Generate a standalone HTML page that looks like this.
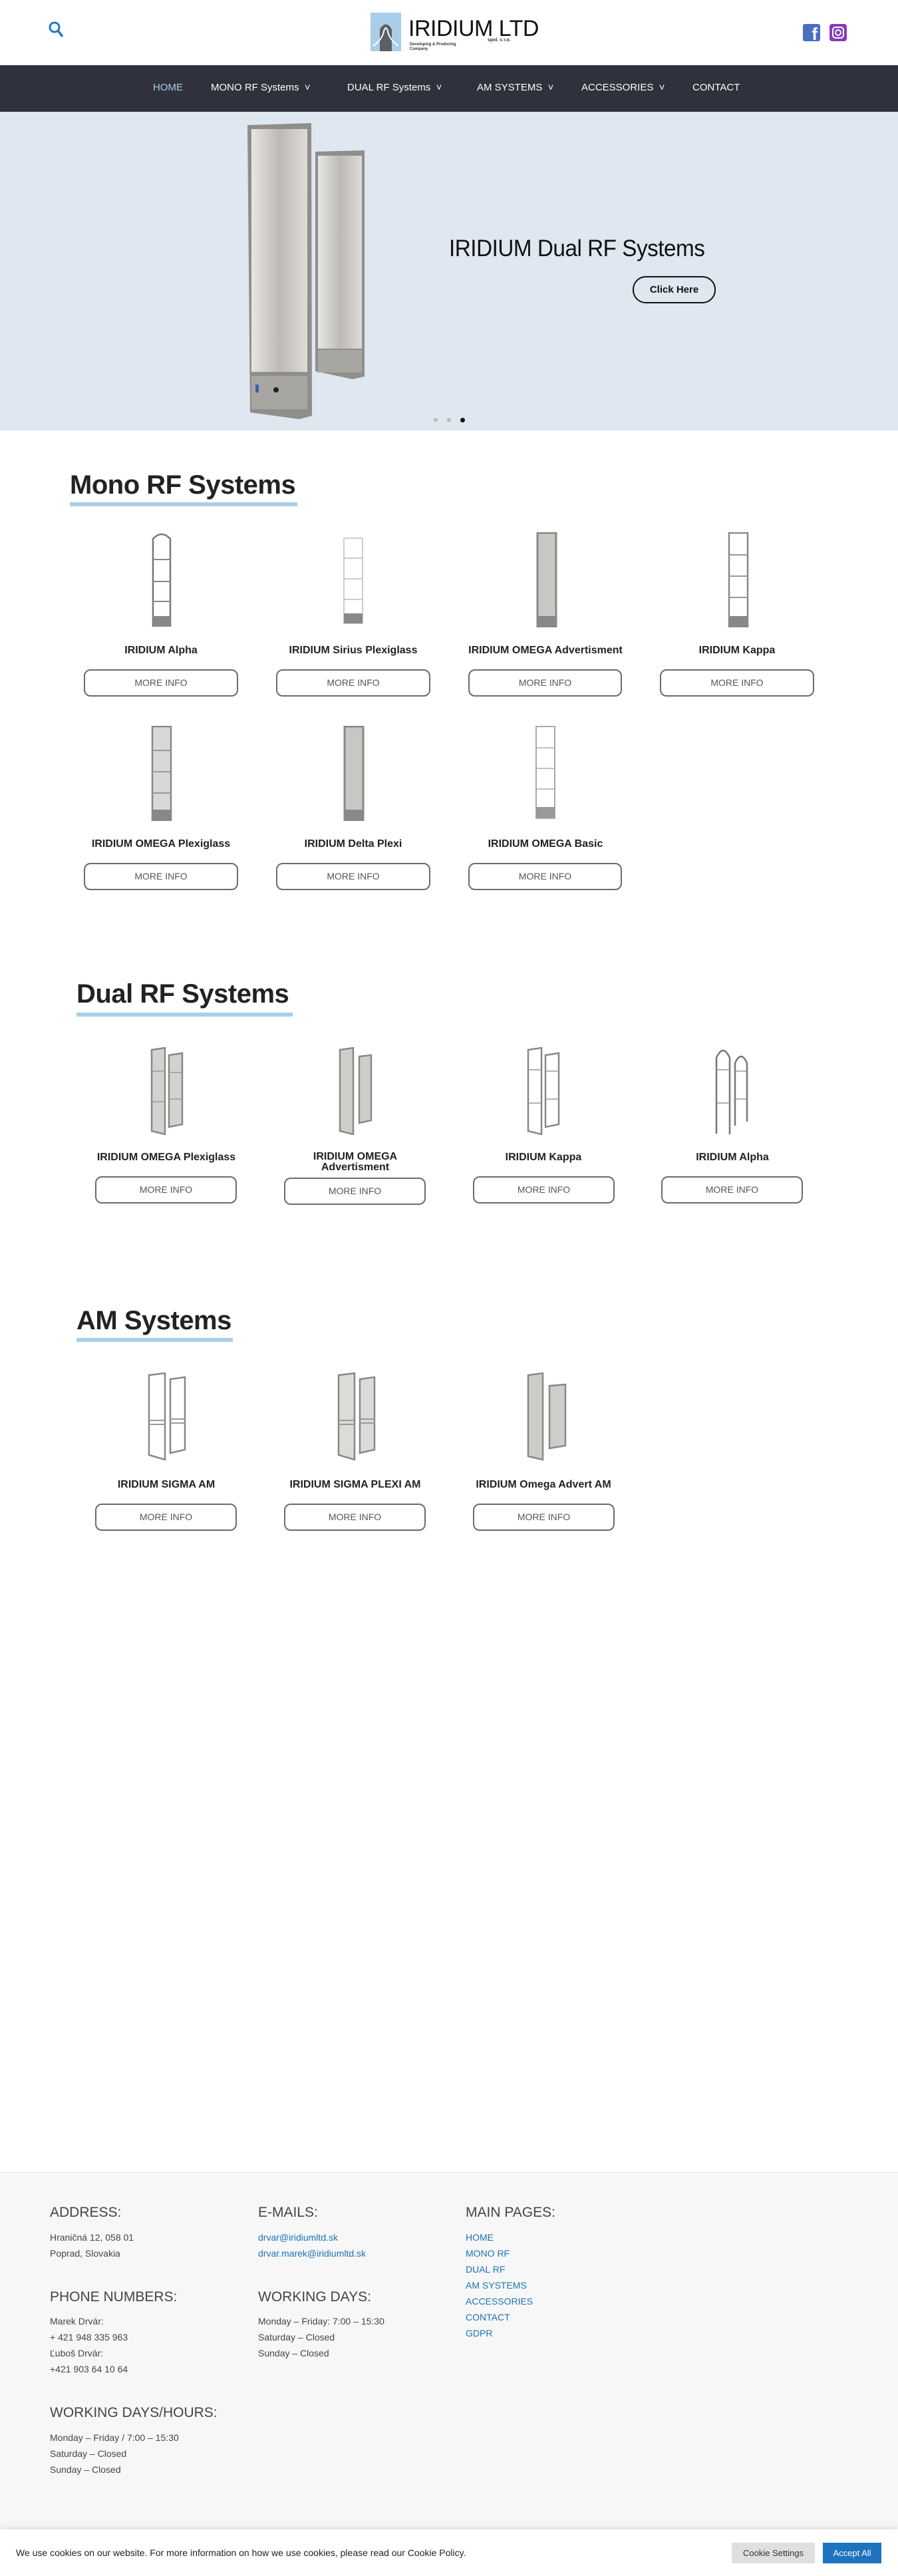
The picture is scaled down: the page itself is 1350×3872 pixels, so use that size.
<!DOCTYPE html>
<html><head><meta charset="utf-8">
<style>
*{margin:0;padding:0;box-sizing:border-box}
body{width:1350px;height:3872px;position:relative;background:#fff;font-family:"Liberation Sans",sans-serif;color:#222;overflow:hidden}
.a{position:absolute}
.nav a{position:absolute;top:123px;color:#fff;font-size:15px;white-space:nowrap}
.h2{position:absolute;font-weight:bold;font-size:40px;color:#222;letter-spacing:-0.5px}
.ul{position:absolute;height:6px;background:#a9cfe8}
.t{position:absolute;text-align:center;font-weight:bold;font-size:16px;color:#222}
.b{position:absolute;border:2px solid #6b6b6b;border-radius:10px;text-align:center;font-size:14px;color:#555;background:#fff}
.f{position:absolute;font-size:14px;color:#444}
.fh{position:absolute;font-size:21px;color:#444}
.lk{color:#1a73b8}
</style></head><body>
<svg class="a" style="left:72px;top:31px" width="26" height="28" viewBox="0 0 26 28"><circle cx="10" cy="10" r="7" fill="none" stroke="#1e78c8" stroke-width="3"/><line x1="15" y1="15" x2="22" y2="24" stroke="#1e78c8" stroke-width="3.5"/></svg>
<div class="a" style="left:557px;top:19px;width:46px;height:58px;background:#a9cdea"></div>
<svg class="a" style="left:557px;top:19px" width="46" height="58"><path d="M14 58 V25 Q23 10 32 25 V58Z" fill="#5a5f66"/><path d="M4 50 Q18 40 20 28 Q23 18 26 28 Q28 40 42 50" fill="none" stroke="#fff" stroke-width="2"/></svg>
<div class="a" style="left:614px;top:24px;font-size:34px;color:#111;letter-spacing:-0.5px">IRIDIUM LTD</div>
<div class="a" style="left:733px;top:57px;font-size:7px;font-weight:bold;color:#333">spol. s r.o.</div>
<div class="a" style="left:616px;top:64px;font-size:6px;font-weight:bold;color:#333;line-height:7px">Developing &amp; Producing<br>Company</div>
<div class="a" style="left:1207px;top:36px;width:26px;height:26px;background:#4a6fbf;border-radius:3px;color:#fff;font-weight:bold;font-size:26px;line-height:30px;text-align:right;padding-right:4px;overflow:hidden">f</div>
<div class="a" style="left:1247px;top:36px;width:26px;height:26px;background:#8a3ab9;border-radius:4px"><div class="a" style="left:4px;top:4px;width:18px;height:18px;border:2px solid #fff;border-radius:5px"></div><div class="a" style="left:8px;top:8px;width:10px;height:10px;border:2px solid #fff;border-radius:50%"></div></div>
<div class="a nav" style="left:0;top:98px;width:1350px;height:70px;background:#2f313d">
<a style="left:230px;top:25px;color:#a9cdea">HOME</a>
<a style="left:317px;top:25px">MONO RF Systems &nbsp;˅</a>
<a style="left:522px;top:25px">DUAL RF Systems &nbsp;˅</a>
<a style="left:717px;top:25px">AM SYSTEMS &nbsp;˅</a>
<a style="left:874px;top:25px">ACCESSORIES &nbsp;˅</a>
<a style="left:1041px;top:25px">CONTACT</a>
</div>
<div class="a" style="left:0;top:168px;width:1350px;height:479px;background:#dfe7f1"></div>
<svg class="a" style="left:360px;top:180px" width="200" height="460">
<defs><linearGradient id="g" x1="0" x2="1"><stop offset="0" stop-color="#e8e6e2"/><stop offset="0.5" stop-color="#bdbab4"/><stop offset="1" stop-color="#dedcd8"/></linearGradient></defs>
<path d="M12 8 L108 5 L109 445 L90 450 L16 440Z" fill="#8f8e8a"/>
<rect x="18" y="14" width="84" height="365" fill="url(#g)"/>
<rect x="18" y="385" width="84" height="50" fill="#a8a6a0"/>
<rect x="24" y="398" width="5" height="12" fill="#3a60b0"/><circle cx="55" cy="406" r="4" fill="#222"/>
<path d="M114 48 L188 46 L188 386 L170 390 L114 378Z" fill="#8f8e8a"/>
<rect x="118" y="54" width="66" height="290" fill="url(#g)"/>
<rect x="118" y="346" width="66" height="34" fill="#a8a6a0"/>
</svg>
<div class="a" style="left:675px;top:354px;font-size:35px;color:#111;letter-spacing:-0.5px;transform:scaleX(0.95);transform-origin:left">IRIDIUM Dual RF Systems</div>
<div class="a" style="left:951px;top:415px;width:125px;height:41px;border:2px solid #111;border-radius:20px;text-align:center;line-height:37px;font-size:15px;font-weight:bold;color:#111">Click Here</div>
<div class="a" style="left:652px;top:628px;width:6px;height:6px;border-radius:50%;background:#bbb"></div>
<div class="a" style="left:672px;top:628px;width:6px;height:6px;border-radius:50%;background:#bbb"></div>
<div class="a" style="left:692px;top:628px;width:7px;height:7px;border-radius:50%;background:#111"></div>

<div class="h2" style="left:105px;top:707px">Mono RF Systems</div>
<div class="ul" style="left:105px;top:755px;width:342px"></div>

<svg class="a" style="left:226px;top:800px" width="34" height="143"><path d="M4 142 V10 Q17 -4 30 10 V142" fill="none" stroke="#777" stroke-width="2.5"/><g stroke="#888" stroke-width="2"><line x1="4" y1="41" x2="30" y2="41"/><line x1="4" y1="74" x2="30" y2="74"/><line x1="4" y1="104" x2="30" y2="104"/></g><rect x="4" y="126" width="26" height="16" fill="#888"/></svg>
<svg class="a" style="left:515px;top:808px" width="32" height="130"><rect x="2" y="1" width="28" height="128" fill="none" stroke="#bbc" stroke-width="1.5"/><g stroke="#bbb" stroke-width="1.5"><line x1="2" y1="31" x2="30" y2="31"/><line x1="2" y1="62" x2="30" y2="62"/><line x1="2" y1="93" x2="30" y2="93"/></g><rect x="2" y="114" width="28" height="15" fill="#888"/></svg>
<svg class="a" style="left:806px;top:800px" width="32" height="143"><rect x="2" y="1" width="28" height="141" fill="#c9c7c2" stroke="#888" stroke-width="3"/><rect x="2" y="126" width="28" height="16" fill="#888"/></svg>
<svg class="a" style="left:1094px;top:800px" width="32" height="143"><rect x="2" y="1" width="28" height="141" fill="none" stroke="#888" stroke-width="2.5"/><g stroke="#999" stroke-width="2"><line x1="2" y1="34" x2="30" y2="34"/><line x1="2" y1="66" x2="30" y2="66"/><line x1="2" y1="98" x2="30" y2="98"/></g><rect x="2" y="126" width="28" height="16" fill="#888"/></svg>
<svg class="a" style="left:227px;top:1091px" width="32" height="143"><rect x="2" y="1" width="28" height="141" fill="#dad8d4" stroke="#888" stroke-width="2.5"/><g stroke="#999" stroke-width="2"><line x1="2" y1="37" x2="30" y2="37"/><line x1="2" y1="69" x2="30" y2="69"/><line x1="2" y1="101" x2="30" y2="101"/></g><rect x="2" y="126" width="28" height="16" fill="#888"/></svg>
<svg class="a" style="left:516px;top:1091px" width="32" height="143"><rect x="2" y="1" width="28" height="141" fill="#c9c7c2" stroke="#888" stroke-width="3"/><rect x="2" y="126" width="28" height="16" fill="#888"/></svg>
<svg class="a" style="left:804px;top:1091px" width="32" height="140"><rect x="2" y="1" width="28" height="138" fill="none" stroke="#aaa" stroke-width="2"/><g stroke="#aaa" stroke-width="1.5"><line x1="2" y1="33" x2="30" y2="33"/><line x1="2" y1="64" x2="30" y2="64"/><line x1="2" y1="95" x2="30" y2="95"/></g><rect x="2" y="122" width="28" height="16" fill="#999"/></svg>

<div class="t" style="left:96px;top:969px;width:292px">IRIDIUM Alpha</div>
<div class="t" style="left:385px;top:969px;width:292px">IRIDIUM Sirius Plexiglass</div>
<div class="t" style="left:674px;top:969px;width:292px">IRIDIUM OMEGA Advertisment</div>
<div class="t" style="left:962px;top:969px;width:292px">IRIDIUM Kappa</div>
<div class="b" style="left:126px;top:1006px;width:232px;height:41px;line-height:37px">MORE INFO</div>
<div class="b" style="left:415px;top:1006px;width:232px;height:41px;line-height:37px">MORE INFO</div>
<div class="b" style="left:704px;top:1006px;width:231px;height:41px;line-height:37px">MORE INFO</div>
<div class="b" style="left:992px;top:1006px;width:232px;height:41px;line-height:37px">MORE INFO</div>
<div class="t" style="left:96px;top:1260px;width:292px">IRIDIUM OMEGA Plexiglass</div>
<div class="t" style="left:385px;top:1260px;width:292px">IRIDIUM Delta Plexi</div>
<div class="t" style="left:674px;top:1260px;width:292px">IRIDIUM OMEGA Basic</div>
<div class="b" style="left:126px;top:1297px;width:232px;height:41px;line-height:37px">MORE INFO</div>
<div class="b" style="left:415px;top:1297px;width:232px;height:41px;line-height:37px">MORE INFO</div>
<div class="b" style="left:704px;top:1297px;width:231px;height:41px;line-height:37px">MORE INFO</div>

<div class="h2" style="left:115px;top:1472px">Dual RF Systems</div>
<div class="ul" style="left:115px;top:1522px;width:325px"></div>
<svg class="a" style="left:222px;top:1574px" width="60" height="132"><g fill="#d4d2ce" stroke="#888" stroke-width="2.5"><path d="M6 4 L26 1 V131 L6 126Z"/><path d="M32 12 L52 9 V116 L32 120Z"/></g><g stroke="#999" stroke-width="1.5"><line x1="6" y1="36" x2="26" y2="36"/><line x1="6" y1="82" x2="26" y2="82"/><line x1="32" y1="38" x2="52" y2="38"/><line x1="32" y1="78" x2="52" y2="78"/></g></svg>
<svg class="a" style="left:505px;top:1574px" width="60" height="132"><g fill="#cfcdc8" stroke="#888" stroke-width="2.5"><path d="M6 4 L26 1 V131 L6 126Z"/><path d="M35 14 L53 12 V110 L35 114Z"/></g></svg>
<svg class="a" style="left:788px;top:1574px" width="60" height="132"><g fill="none" stroke="#888" stroke-width="2.5"><path d="M6 4 L26 1 V131 L6 126Z"/><path d="M32 12 L52 9 V116 L32 120Z"/></g><g stroke="#999" stroke-width="1.5"><line x1="6" y1="34" x2="26" y2="34"/><line x1="6" y1="84" x2="26" y2="84"/><line x1="32" y1="36" x2="52" y2="36"/><line x1="32" y1="78" x2="52" y2="78"/></g></svg>
<svg class="a" style="left:1072px;top:1574px" width="60" height="132"><g fill="none" stroke="#777" stroke-width="2.5"><path d="M5 130 V16 Q15 -6 25 16 V131"/><path d="M33 118 V24 Q42 4 51 24 V112"/></g><g stroke="#999" stroke-width="1.5"><line x1="5" y1="34" x2="25" y2="34"/><line x1="5" y1="84" x2="25" y2="84"/><line x1="33" y1="36" x2="51" y2="36"/><line x1="33" y1="78" x2="51" y2="78"/></g></svg>
<div class="t" style="left:110px;top:1731px;width:280px">IRIDIUM OMEGA Plexiglass</div>
<div class="t" style="left:394px;top:1731px;width:280px;line-height:16px">IRIDIUM OMEGA<br>Advertisment</div>
<div class="t" style="left:677px;top:1731px;width:280px">IRIDIUM Kappa</div>
<div class="t" style="left:961px;top:1731px;width:280px">IRIDIUM Alpha</div>
<div class="b" style="left:143px;top:1768px;width:213px;height:41px;line-height:37px">MORE INFO</div>
<div class="b" style="left:427px;top:1770px;width:213px;height:41px;line-height:37px">MORE INFO</div>
<div class="b" style="left:711px;top:1768px;width:213px;height:41px;line-height:37px">MORE INFO</div>
<div class="b" style="left:994px;top:1768px;width:213px;height:41px;line-height:37px">MORE INFO</div>

<div class="h2" style="left:115px;top:1963px">AM Systems</div>
<div class="ul" style="left:115px;top:2011px;width:235px"></div>
<svg class="a" style="left:218px;top:2063px" width="70" height="133"><g fill="none" stroke="#888" stroke-width="2.5"><path d="M6 4 L30 1 V131 L6 124Z"/><path d="M38 10 L60 7 V116 L38 121Z"/></g><g stroke="#999" stroke-width="2"><line x1="6" y1="72" x2="30" y2="72"/><line x1="6" y1="78" x2="30" y2="78"/><line x1="38" y1="70" x2="60" y2="70"/><line x1="38" y1="76" x2="60" y2="76"/></g></svg>
<svg class="a" style="left:503px;top:2063px" width="70" height="133"><g fill="#dddbd7" stroke="#888" stroke-width="2.5"><path d="M6 4 L30 1 V131 L6 124Z"/><path d="M38 10 L60 7 V116 L38 121Z"/></g><g stroke="#999" stroke-width="2"><line x1="6" y1="72" x2="30" y2="72"/><line x1="6" y1="78" x2="30" y2="78"/><line x1="38" y1="70" x2="60" y2="70"/><line x1="38" y1="76" x2="60" y2="76"/></g></svg>
<svg class="a" style="left:788px;top:2063px" width="70" height="133"><g fill="#cfcdc8" stroke="#888" stroke-width="2.5"><path d="M6 4 L28 1 V131 L6 126Z"/><path d="M38 20 L62 18 V110 L38 114Z"/></g></svg>
<div class="t" style="left:110px;top:2223px;width:280px">IRIDIUM SIGMA AM</div>
<div class="t" style="left:394px;top:2223px;width:280px">IRIDIUM SIGMA PLEXI AM</div>
<div class="t" style="left:677px;top:2223px;width:280px">IRIDIUM Omega Advert AM</div>
<div class="b" style="left:143px;top:2260px;width:213px;height:41px;line-height:37px">MORE INFO</div>
<div class="b" style="left:427px;top:2260px;width:213px;height:41px;line-height:37px">MORE INFO</div>
<div class="b" style="left:711px;top:2260px;width:213px;height:41px;line-height:37px">MORE INFO</div>

<div class="a" style="left:0;top:3265px;width:1350px;height:607px;background:#f7f7f7;border-top:1px solid #e2e2e2"></div>
<div class="fh" style="left:75px;top:3314px">ADDRESS:</div>
<div class="fh" style="left:388px;top:3314px">E-MAILS:</div>
<div class="fh" style="left:700px;top:3314px">MAIN PAGES:</div>
<div class="f" style="left:75px;top:3351px;line-height:24px">Hraničná 12, 058 01<br>Poprad, Slovakia</div>
<div class="f lk" style="left:388px;top:3351px;line-height:24px">drvar@iridiumltd.sk<br>drvar.marek@iridiumltd.sk</div>
<div class="f lk" style="left:700px;top:3351px;line-height:24px">HOME<br>MONO RF<br>DUAL RF<br>AM SYSTEMS<br>ACCESSORIES<br>CONTACT<br>GDPR</div>
<div class="fh" style="left:75px;top:3441px">PHONE NUMBERS:</div>
<div class="fh" style="left:388px;top:3441px">WORKING DAYS:</div>
<div class="f" style="left:75px;top:3477px;line-height:24px">Marek Drvár:<br>+ 421 948 335 963<br>Ľuboš Drvár:<br>+421 903 64 10 64</div>
<div class="f" style="left:388px;top:3477px;line-height:24px">Monday – Friday: 7:00 – 15:30<br>Saturday – Closed<br>Sunday – Closed</div>
<div class="fh" style="left:75px;top:3615px">WORKING DAYS/HOURS:</div>
<div class="f" style="left:75px;top:3652px;line-height:24px">Monday – Friday / 7:00 – 15:30<br>Saturday – Closed<br>Sunday – Closed</div>
<div class="a" style="left:0;top:3802px;width:1350px;height:70px;background:#fff;box-shadow:0 -4px 8px rgba(0,0,0,0.08)"></div>
<div class="a" style="left:24px;top:3829px;font-size:14px;color:#222">We use cookies on our website. For more information on how we use cookies, please read our Cookie Policy.</div>
<div class="a" style="left:1100px;top:3822px;width:125px;height:31px;background:#dedfe0;color:#333;font-size:13px;text-align:center;line-height:31px">Cookie Settings</div>
<div class="a" style="left:1237px;top:3822px;width:88px;height:31px;background:#1e73be;color:#fff;font-size:13px;text-align:center;line-height:31px">Accept All</div>
</body></html>
